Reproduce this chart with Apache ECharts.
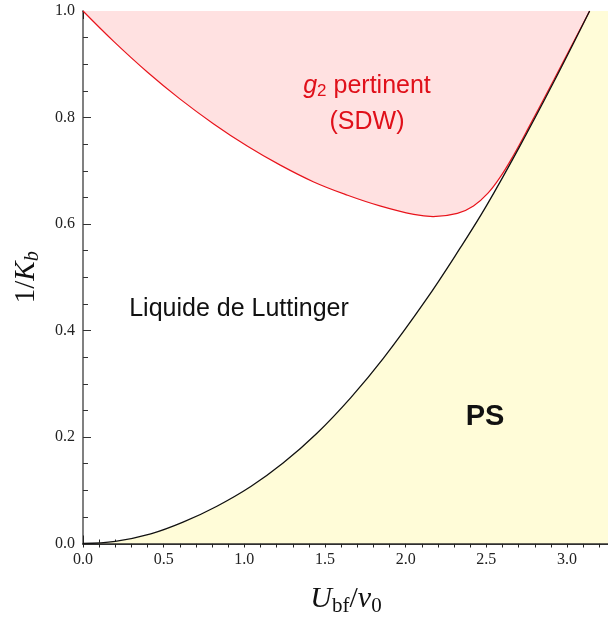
<!DOCTYPE html>
<html>
<head>
<meta charset="utf-8">
<script src="https://cdn.jsdelivr.net/npm/echarts@6/dist/echarts.min.js"></script>
<style>
html,body{margin:0;padding:0;background:#fff;}
#chart{width:608px;height:617px;}
</style>
</head>
<body>
<div id="chart"></div>
<script>
// PS boundary (black curve)
const blackX = [0, 0.2, 0.42, 0.62, 0.83, 1.04, 1.24, 1.45, 1.66, 1.86, 2.12, 2.34, 2.50, 2.70, 2.92, 3.14];
const blackY = [0, 0.004, 0.018, 0.040, 0.070, 0.107, 0.151, 0.207, 0.274, 0.347, 0.455, 0.556, 0.634, 0.742, 0.868, 1.0];
// g2 pertinent boundary (red curve)
const redX = [0, 0.19, 0.40, 0.60, 0.81, 1.02, 1.22, 1.43, 1.64, 1.84, 2.05, 2.17, 2.32, 2.42, 2.51, 2.59, 2.67, 2.76, 2.92, 3.14];
const redY = [1, 0.943, 0.885, 0.835, 0.788, 0.746, 0.711, 0.679, 0.654, 0.634, 0.618, 0.614, 0.620, 0.634, 0.658, 0.690, 0.730, 0.780, 0.872, 1.0];
// axis ranges / ticks
const xMin = 0, xMax = 3.26, xMajor = 0.5, xMinor = 0.1;
const yMin = 0, yMax = 1, yMajor = 0.2;
// region labels
const labelSDW = ['g', '2', ' pertinent', '(SDW)'];
const labelLL = 'Liquide de Luttinger';
const labelPS = 'PS';

const blackData = blackX.map((x, i) => [x, blackY[i]]);
const redData = redX.map((x, i) => [x, redY[i]]);
const yellowData = blackData.concat([[xMax, yMax]]);

const serif = '"Liberation Serif","DejaVu Serif",serif';
const sans = '"Liberation Sans",Arial,sans-serif';

const chart = echarts.init(document.getElementById('chart'));
const xBase = {
  type: 'value', min: xMin, max: xMax, gridIndex: 0,
  splitLine: {show: false},
  axisLine: {show: true, onZero: false, lineStyle: {color: '#222', width: 1.5}},
};
const option = {
  animation: false,
  backgroundColor: '#fff',
  grid: {left: 83, right: -1, top: 11, bottom: 73.5, containLabel: false, outerBoundsMode: 'none'},
  xAxis: [
    Object.assign({}, xBase, {
      position: 'bottom', interval: xMajor,
      axisTick: {inside: true, length: 8, lineStyle: {color: '#222'}},
      axisLabel: {showMaxLabel: false, margin: 8, fontFamily: serif, fontSize: 16, color: '#222',
        formatter: v => v.toFixed(1)},
      name: '{i|U}{sub|bf}{n|/}{i|v}{sub|0}',
      nameLocation: 'middle', nameGap: 38,
      nameTextStyle: {
        rich: {
          i: {fontFamily: serif, fontStyle: 'italic', fontSize: 30, color: '#111'},
          n: {fontFamily: serif, fontSize: 30, color: '#111'},
          sub: {fontFamily: serif, fontSize: 21, color: '#111', padding: [14, 0, 0, 0]}
        }
      }
    }),
    Object.assign({}, xBase, {
      position: 'bottom', interval: xMinor,
      axisTick: {inside: true, length: 4, lineStyle: {color: '#222'}},
      axisLabel: {show: false}
    }),
    Object.assign({}, xBase, {
      position: 'top', interval: xMajor,
      axisLine: {show: true, onZero: false, lineStyle: {color: '#222', width: 1}},
      axisTick: {inside: true, length: 8, lineStyle: {color: '#222'}},
      axisLabel: {show: false}
    }),
    Object.assign({}, xBase, {
      position: 'top', interval: xMinor,
      axisLine: {show: false},
      axisTick: {inside: true, length: 4, lineStyle: {color: '#222'}},
      axisLabel: {show: false}
    })
  ],
  yAxis: [
    {
      type: 'value', min: yMin, max: yMax, interval: yMajor, position: 'left',
      splitLine: {show: false},
      axisLine: {show: true, onZero: false, lineStyle: {color: '#808080', width: 2}},
      axisTick: {inside: true, length: 8, lineStyle: {color: '#333'}},
      minorTick: {show: true, splitNumber: 4, length: 5, lineStyle: {color: '#333'}},
      axisLabel: {margin: 8, fontFamily: serif, fontSize: 16, color: '#222', formatter: v => v.toFixed(1)},
      name: '{n|1/}{i|K}{sub|b}',
      nameLocation: 'middle', nameGap: 40, nameRotate: 90,
      nameTextStyle: {
        rich: {
          i: {fontFamily: serif, fontStyle: 'italic', fontSize: 29, color: '#111'},
          n: {fontFamily: serif, fontSize: 29, color: '#111'},
          sub: {fontFamily: serif, fontStyle: 'italic', fontSize: 20, color: '#111', padding: [14, 0, 0, 0]}
        }
      }
    },
    {
      type: 'value', min: yMin, max: yMax, interval: yMajor, position: 'right',
      splitLine: {show: false},
      axisLine: {show: true, onZero: false, lineStyle: {color: '#222', width: 1}},
      axisTick: {inside: true, length: 8, lineStyle: {color: '#333'}},
      minorTick: {show: true, splitNumber: 4, length: 5, lineStyle: {color: '#333'}},
      axisLabel: {show: false}
    }
  ],
  series: [
    {
      type: 'line', name: 'PS', data: yellowData, xAxisIndex: 0, yAxisIndex: 0,
      smooth: 0.4, symbol: 'none', silent: true,
      lineStyle: {width: 0, opacity: 0},
      areaStyle: {origin: 'start', color: '#FFFCD8', opacity: 1},
      z: 1
    },
    {
      type: 'line', name: 'g2', data: redData, xAxisIndex: 0, yAxisIndex: 0,
      smooth: 0.4, symbol: 'none', silent: true,
      lineStyle: {width: 1.2, color: '#E8141C'},
      areaStyle: {origin: 'end', color: '#FFE1E1', opacity: 1},
      z: 2
    },
    {
      type: 'line', name: 'PSline', data: blackData, xAxisIndex: 0, yAxisIndex: 0,
      smooth: 0.4, symbol: 'none', silent: true,
      lineStyle: {width: 1.3, color: '#111'},
      z: 3
    }
  ],
  graphic: [
    {
      type: 'text', x: 367, y: 86, z: 10,
      style: {
        text: '{g|' + labelSDW[0] + '}{s|' + labelSDW[1] + '}{t|' + labelSDW[2] + '}',
        align: 'center', verticalAlign: 'middle',
        rich: {
          g: {fontFamily: sans, fontStyle: 'italic', fontSize: 25, fill: '#E0101A'},
          s: {fontFamily: sans, fontSize: 17, fill: '#E0101A', padding: [10, 0, 0, 0]},
          t: {fontFamily: sans, fontSize: 25, fill: '#E0101A'}
        }
      }
    },
    {
      type: 'text', x: 367, y: 122, z: 10,
      style: {text: labelSDW[3], align: 'center', verticalAlign: 'middle',
        fontFamily: sans, fontSize: 25, fill: '#E0101A'}
    },
    {
      type: 'text', x: 239, y: 309, z: 10,
      style: {text: labelLL, align: 'center', verticalAlign: 'middle',
        fontFamily: sans, fontSize: 25, fill: '#111'}
    },
    {
      type: 'text', x: 485, y: 417, z: 10,
      style: {text: labelPS, align: 'center', verticalAlign: 'middle',
        fontFamily: sans, fontWeight: 'bold', fontSize: 29, fill: '#111'}
    }
  ]
};
chart.setOption(option);
</script>
</body>
</html>
